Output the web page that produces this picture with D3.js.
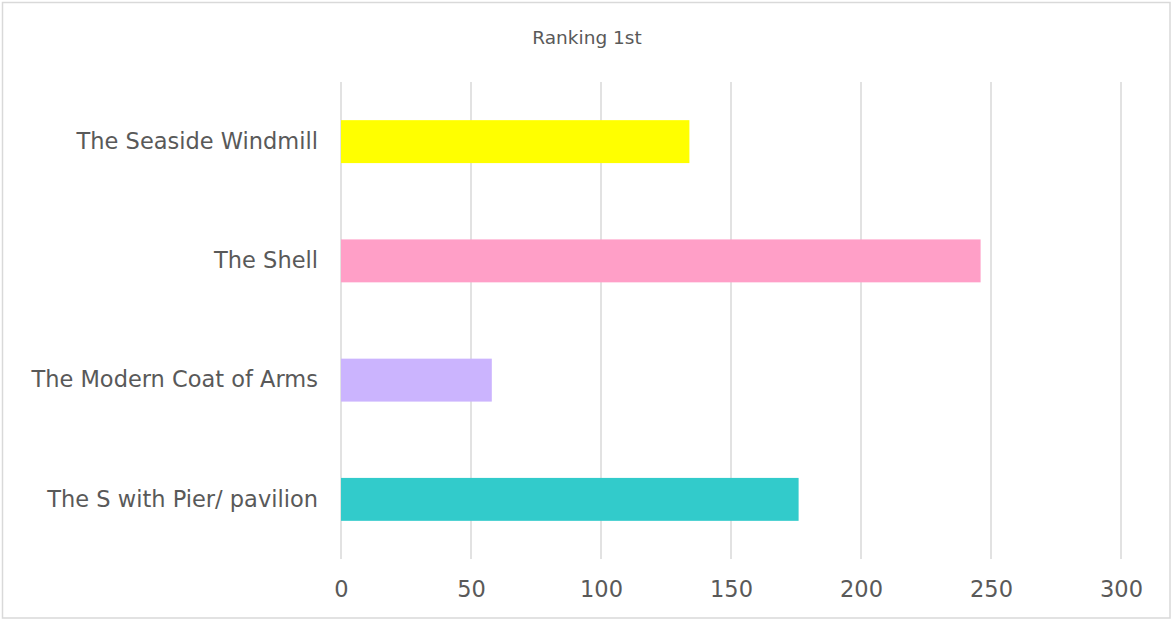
<!DOCTYPE html>
<html>
<head>
<meta charset="utf-8">
<script src="https://cdn.jsdelivr.net/npm/d3@7"></script>
<style>
  html, body { margin: 0; padding: 0; background: #fff; }
  svg { display: block; font-family: "DejaVu Sans", sans-serif; }
</style>
</head>
<body>
<svg id="chart" width="1173" height="621"></svg>
<script>
// Logo ranking data: number of first-place votes per design
const categories = ["The Seaside Windmill", "The Shell", "The Modern Coat of Arms", "The S with Pier/ pavilion"];
const firstPlaceVotes = [134, 246, 58, 176];
const barColors = ["#FFFF00", "#FF9FC7", "#CBB4FE", "#32CBCB"];
const xTicks = [0, 50, 100, 150, 200, 250, 300];
const chartTitle = "Ranking 1st";

const W = 1173, H = 621;
const margin = { left: 341, right: 52, top: 82, bottom: 62 };
const svg = d3.select("#chart");

// outer chart frame
svg.append("rect")
  .attr("x", 2.5).attr("y", 2.5)
  .attr("width", W - 5.5).attr("height", H - 5.5)
  .attr("fill", "#fff").attr("stroke", "#d9d9d9").attr("stroke-width", 1.5);

const x = d3.scaleLinear().domain([0, 300]).range([margin.left, W - margin.right]);
const y = d3.scaleBand().domain(categories)
  .range([margin.top, H - margin.bottom]).paddingInner(0.64).paddingOuter(0.32);

// vertical gridlines
svg.append("g").selectAll("line").data(xTicks).join("line")
  .attr("x1", d => x(d)).attr("x2", d => x(d))
  .attr("y1", margin.top).attr("y2", H - margin.bottom)
  .attr("stroke", "#d9d9d9").attr("stroke-width", 1.5);

// bars
svg.append("g").selectAll("rect").data(categories).join("rect")
  .attr("x", x(0))
  .attr("y", d => y(d))
  .attr("width", (d, i) => x(firstPlaceVotes[i]) - x(0))
  .attr("height", y.bandwidth())
  .attr("fill", (d, i) => barColors[i]);

// x axis tick labels
const xAxis = d3.axisBottom(x).tickValues(xTicks).tickSize(0).tickPadding(0);
const gx = svg.append("g").attr("transform", `translate(0, ${H - margin.bottom})`).call(xAxis);
gx.select(".domain").remove();
gx.selectAll("text")
  .attr("dy", 0).attr("y", 38)
  .attr("fill", "#595959").attr("font-size", 22.5)
  .attr("font-family", "DejaVu Sans, sans-serif");

// category labels
const yAxis = d3.axisLeft(y).tickSize(0).tickPadding(23);
const gy = svg.append("g").attr("transform", `translate(${margin.left}, 0)`).call(yAxis);
gy.select(".domain").remove();
gy.selectAll("text")
  .attr("fill", "#595959").attr("font-size", 22.5)
  .attr("font-family", "DejaVu Sans, sans-serif");

// title
svg.append("text")
  .attr("x", 587).attr("y", 44)
  .attr("text-anchor", "middle")
  .attr("fill", "#595959").attr("font-size", 18.5)
  .text(chartTitle);
</script>
</body>
</html>
